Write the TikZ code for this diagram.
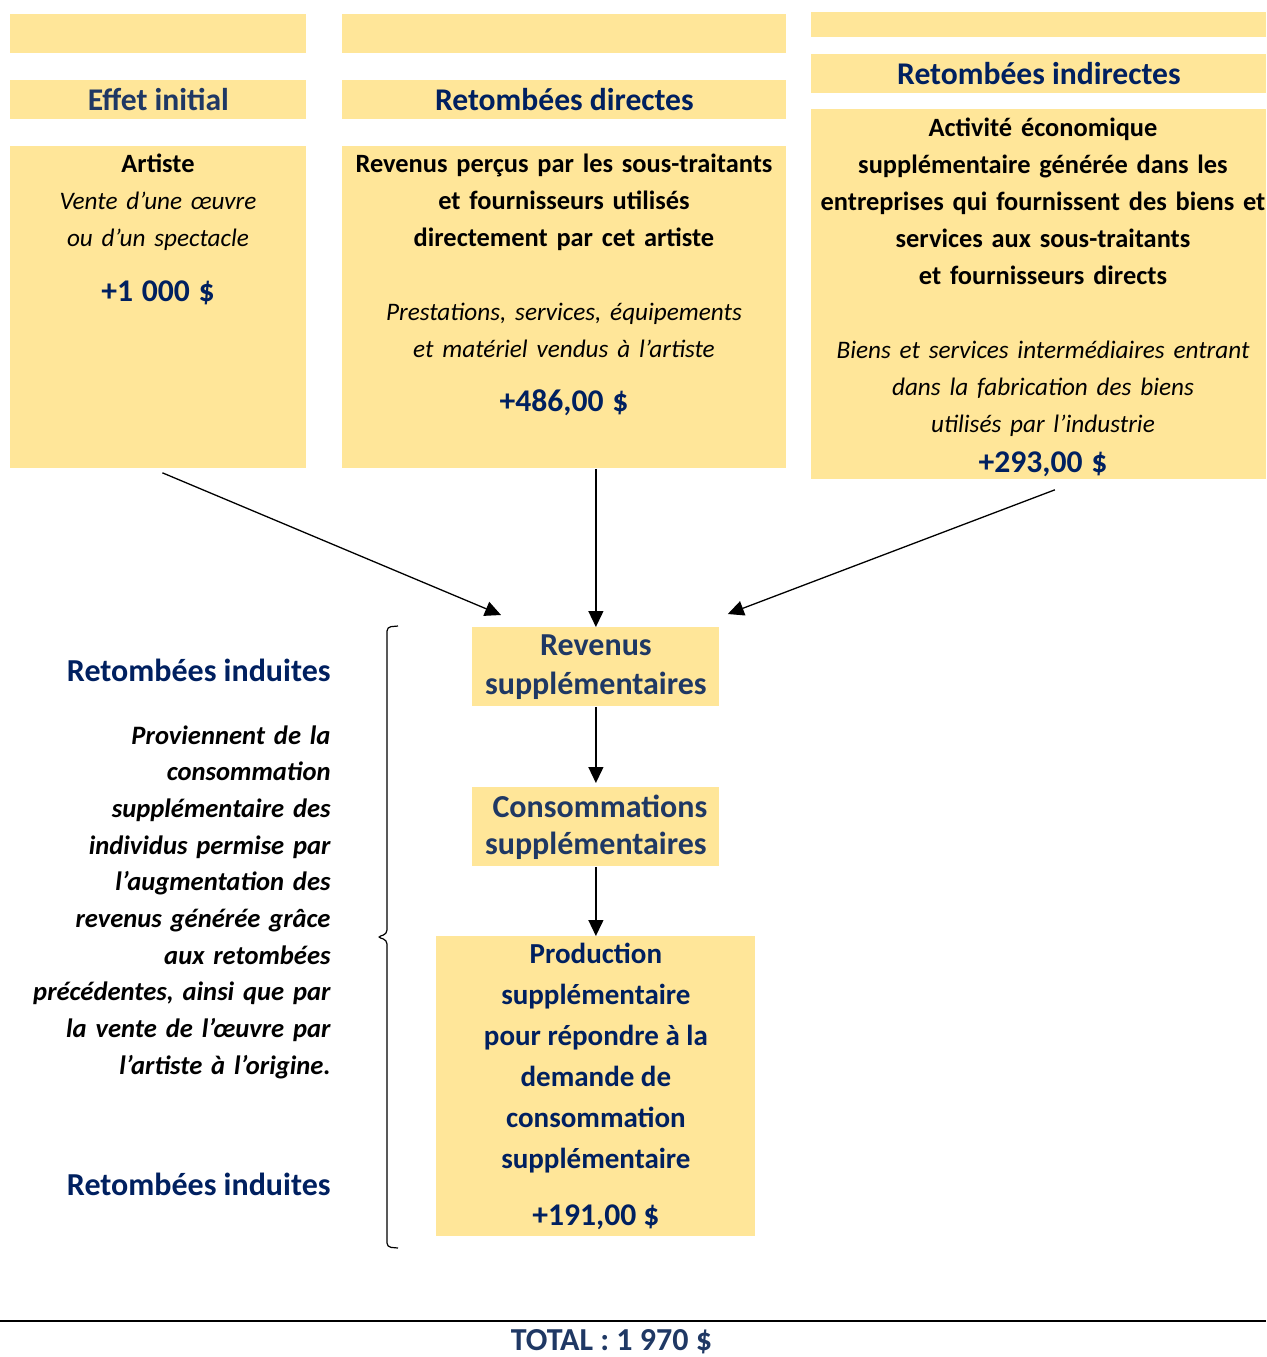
\documentclass[tikz,border=0pt]{standalone}
\usepackage{fontspec}
\setmainfont{Carlito}
\usepackage{xcolor}
\usepackage{tikz}
\usetikzlibrary{arrows.meta,calc,positioning}
\definecolor{sand}{RGB}{255,230,153}
\definecolor{navy}{RGB}{0,32,96}
\definecolor{slate}{RGB}{31,56,100}
\newcommand{\montant}[1]{{\fontsize{15.8}{19}\selectfont\bfseries\color{navy}#1}}
\newcommand{\note}[1]{{\fontsize{12.6}{18.5}\selectfont\itshape #1}}

\begin{document}
\begin{tikzpicture}[
      x=0.5pt, y=-0.5pt,
      band/.style={fill=sand, inner sep=0pt, anchor=north west},
      head/.style={band, minimum height=19.5pt, font=\fontsize{15.8}{19}\selectfont\bfseries},
      body/.style={align=center, text width=240pt, inner sep=0pt, anchor=base,
        font=\fontsize{13.2}{18.5}\selectfont},
      flow/.style={band, align=center, text=slate, minimum width=123.5pt,
        minimum height=39.5pt, font=\fontsize{16}{19.5}\selectfont\bfseries},
      side/.style={inner sep=0pt, anchor=base east, text=navy,
        font=\fontsize{16}{19}\selectfont\bfseries},
      expl/.style={inner sep=0pt, anchor=base east, align=right, text width=200pt,
        font=\fontsize{13.3}{18.35}\selectfont\bfseries\itshape},
      arr/.style={draw, line width=0.65pt, -{Triangle[length=8pt,width=7.5pt]}},
      rule/.style={draw, line width=0.6pt}
    ]
    \useasboundingbox (0,0) rectangle (1266,1357);

    \node[band, minimum width=148pt, minimum height=19.5pt] (blank1) at (10,14) {};
    \node[band, minimum width=222pt, minimum height=19.5pt] (blank2) at (342,14) {};
    \node[band, minimum width=227.5pt, minimum height=12.5pt] (blank3) at (811,12) {};

    \node[head, minimum width=148pt, text=slate] (initial) at (10,80) {Effet initial};
    \node[head, minimum width=222pt, text=navy] (directes) at (342,80) {Retombées directes};
    \node[head, minimum width=227.5pt, text=navy] (indirectes) at (811,54) {Retombées indirectes};

    \node[band, minimum width=148pt, minimum height=161pt] (artiste) at (10,146) {};
    \node[band, minimum width=222pt, minimum height=161pt] (soustraitants) at (342,146) {};
    \node[band, minimum width=227.5pt, minimum height=185pt] (fournisseurs) at (811,109) {};

    \node[body] (artiste-txt) at (158,172) {
      \textbf{Artiste}\\
      \note{Vente d’une œuvre}\\
      \note{ou d’un spectacle}\\[9pt]
      \montant{+1 000 \$}
    };
    \node[body] (soustraitants-txt) at (564,172) {
      \textbf{Revenus perçus par les sous-traitants}\\
      \textbf{et fournisseurs utilisés}\\
      \textbf{directement par cet artiste}\\[18.5pt]
      \note{Prestations, services, équipements}\\
      \note{et matériel vendus à l’artiste}\\[8.5pt]
      \montant{+486,00 \$}
    };
    \node[body] (fournisseurs-txt) at (1043,136) {
      \textbf{Activité économique}\\
      \textbf{supplémentaire générée dans les}\\
      \textbf{entreprises qui fournissent des biens et}\\
      \textbf{services aux sous-traitants}\\
      \textbf{et fournisseurs directs}\\[18.5pt]
      \note{Biens et services intermédiaires entrant}\\
      \note{dans la fabrication des biens}\\
      \note{utilisés par l’industrie}\\[1.5pt]
      \montant{+293,00 \$}
    };

    \node[flow] (revenus) at (472,627) {Revenus\\ supplémentaires};
    \node[flow, font=\fontsize{16}{18.5}\selectfont\bfseries] (conso) at (472,787)
      {\hspace*{4pt}Consommations\\ supplémentaires};
    \node[flow, text=navy, minimum width=159.5pt, minimum height=150pt,
      font=\fontsize{14.5}{20.5}\selectfont\bfseries] (production) at (436,936) {
      Production\\
      supplémentaire\\
      pour répondre à la\\
      demande de\\
      consommation\\
      supplémentaire\\[8pt]
      \montant{+191,00 \$}
    };

    \node[side] (induites) at (331,681) {Retombées induites};
    \node[expl] (provenance) at (331,744) {
      Proviennent de la\\
      consommation\\
      supplémentaire des\\
      individus permise par\\
      l’augmentation des\\
      revenus générée grâce\\
      aux retombées\\
      précédentes, ainsi que par\\
      la vente de l’œuvre par\\
      l’artiste à l’origine.
    };
    \node[side] (induites-bas) at (331,1195) {Retombées induites};

    \coordinate (in-gauche) at ($(revenus.north west)+(29,-12)$);
    \coordinate (in-droite) at ($(revenus.north east)+(8,-13)$);
    \draw[arr] ($(artiste.south)+(4,4)$) -- (in-gauche);
    \draw[arr] (soustraitants.south -| revenus.north) -- (revenus.north);
    \draw[arr] ($(fournisseurs.south)+(16,10)$) -- (in-droite);
    \draw[arr, shorten >=2pt] (revenus) -- (conso);
    \draw[arr] (conso) -- (production);

    \draw[rule, rounded corners=2pt] (398,626) -- (387,627) -- (387,934) -- (377,937)
      -- (387,940) -- (387,1247) -- (398,1248);

    \draw[rule] (0,1321) -- (1266,1321);
    \node[inner sep=0pt, anchor=base, text=slate, font=\fontsize{16}{19}\selectfont\bfseries]
      (total) at (611.5,1350) {TOTAL : 1 970 \$};
  \end{tikzpicture}
\end{document}
